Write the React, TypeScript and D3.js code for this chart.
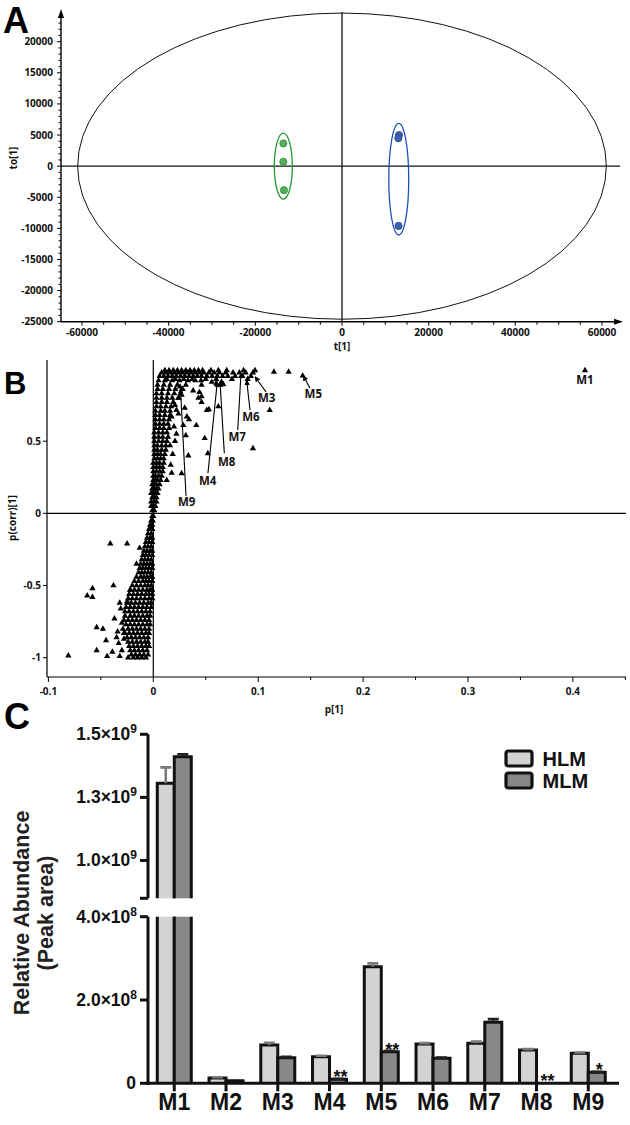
import React from "react";
import * as d3 from "d3";

// ---------------- Panel A data (OPLS-DA score plot) ----------------
const aXTicks = [-60000, -40000, -20000, 0, 20000, 40000, 60000];
const aYTicks = [20000, 15000, 10000, 5000, 0, -5000, -10000, -15000, -20000, -25000];
const greenScores: [number, number][] = [[-13540, 3650], [-13540, 690], [-13400, -3860]];
const blueScores: [number, number][] = [[13150, 5000], [13000, 4500], [13050, -9600]];
const greenEllipse = { cx: -13540, cy: 0, rx: 2080, ry: 5300 };
const blueEllipse = { cx: 13100, cy: -2100, rx: 2300, ry: 8970 };
const hotelling = { rx: 61000, ry: 24600 };

// ---------------- Panel B data (S-plot) ----------------
// rows: [p(corr), list of p values]
const negBandRows: [number, number[]][] = [
  [-0.02, [-0.001, 0.0]],
  [-0.05, [-0.002, -0.0005]],
  [-0.08, [-0.003, -0.001]],
  [-0.11, [-0.004, -0.001, -0.0025]],
  [-0.14, [-0.005, -0.002]],
  [-0.17, [-0.006, -0.003, -0.001]],
  [-0.2, [-0.007, -0.004, -0.001]],
  [-0.23, [-0.008, -0.005, -0.002]],
  [-0.26, [-0.009, -0.006, -0.003, -0.001]],
  [-0.29, [-0.01, -0.007, -0.004, -0.001]],
  [-0.32, [-0.011, -0.008, -0.005, -0.002]],
  [-0.35, [-0.012, -0.009, -0.006, -0.003, -0.001]],
  [-0.38, [-0.013, -0.01, -0.007, -0.004, -0.001]],
  [-0.41, [-0.014, -0.011, -0.008, -0.005, -0.002]],
  [-0.44, [-0.016, -0.012, -0.009, -0.006, -0.003, -0.001]],
  [-0.47, [-0.018, -0.014, -0.01, -0.007, -0.004, -0.001]],
  [-0.5, [-0.02, -0.016, -0.012, -0.008, -0.005, -0.002]],
  [-0.53, [-0.022, -0.018, -0.014, -0.01, -0.006, -0.003, -0.001]],
  [-0.56, [-0.023, -0.019, -0.015, -0.011, -0.007, -0.004, -0.001]],
  [-0.59, [-0.024, -0.02, -0.016, -0.012, -0.008, -0.004, -0.001]],
  [-0.62, [-0.025, -0.021, -0.017, -0.013, -0.009, -0.005, -0.002]],
  [-0.65, [-0.026, -0.022, -0.018, -0.014, -0.01, -0.006, -0.002]],
  [-0.68, [-0.027, -0.023, -0.019, -0.015, -0.011, -0.007, -0.003]],
  [-0.71, [-0.027, -0.022, -0.018, -0.014, -0.01, -0.006, -0.003]],
  [-0.74, [-0.028, -0.024, -0.02, -0.016, -0.012, -0.008, -0.004]],
  [-0.77, [-0.026, -0.022, -0.018, -0.014, -0.01, -0.006, -0.003]],
  [-0.8, [-0.029, -0.024, -0.02, -0.016, -0.012, -0.008, -0.004]],
  [-0.83, [-0.027, -0.023, -0.019, -0.015, -0.011, -0.007, -0.004]],
  [-0.86, [-0.025, -0.021, -0.017, -0.013, -0.009, -0.005]],
  [-0.89, [-0.024, -0.02, -0.016, -0.012, -0.008, -0.005]],
  [-0.92, [-0.023, -0.019, -0.015, -0.011, -0.007, -0.004]],
  [-0.95, [-0.022, -0.018, -0.014, -0.01, -0.006]],
  [-0.98, [-0.021, -0.017, -0.013, -0.009, -0.005]],
  [-1.0, [-0.024, -0.019, -0.015, -0.011, -0.007]],
];
const negOutliers: [number, number][] = [
  [-0.081, -0.986], [-0.041, -0.21], [-0.025, -0.21], [-0.063, -0.57], [-0.058, -0.52],
  [-0.058, -0.58], [-0.038, -0.5], [-0.054, -0.79], [-0.048, -0.8], [-0.045, -0.88],
  [-0.054, -0.95], [-0.044, -0.99], [-0.039, -0.96], [-0.032, -0.99], [-0.037, -0.73],
  [-0.03, -0.76], [-0.034, -0.82], [-0.028, -0.83], [-0.013, -0.24], [-0.016, -0.35],
  [-0.022, -0.53], [-0.025, -0.61], [-0.032, -0.62], [-0.031, -0.66], [-0.035, -0.86],
  [-0.033, -0.9], [-0.03, -0.95], [-0.028, -0.87],
];
const posBandRows: [number, number[]][] = [
  [0.02, [-0.001, 0.001]],
  [0.05, [-0.002, 0.0, 0.002]],
  [0.08, [-0.002, 0.001, 0.003]],
  [0.11, [-0.001, 0.001, 0.003]],
  [0.14, [-0.002, 0.0, 0.002, 0.004]],
  [0.17, [-0.001, 0.001, 0.003, 0.005]],
  [0.2, [-0.001, 0.001, 0.003, 0.006]],
  [0.23, [0.0, 0.002, 0.004, 0.007]],
  [0.26, [0.0, 0.002, 0.005, 0.008]],
  [0.29, [0.0, 0.003, 0.006, 0.009]],
  [0.32, [0.0, 0.003, 0.006, 0.009]],
  [0.35, [0.0, 0.003, 0.006, 0.01]],
  [0.38, [0.001, 0.004, 0.007, 0.01]],
  [0.41, [0.001, 0.004, 0.007, 0.011]],
  [0.44, [0.001, 0.004, 0.008, 0.012]],
  [0.47, [0.001, 0.004, 0.008, 0.012]],
  [0.5, [0.001, 0.005, 0.009, 0.013]],
  [0.53, [0.001, 0.005, 0.009, 0.014]],
  [0.56, [0.001, 0.005, 0.009, 0.013]],
  [0.59, [0.002, 0.006, 0.01, 0.015]],
  [0.62, [0.002, 0.006, 0.01, 0.014]],
  [0.65, [0.002, 0.006, 0.01, 0.015]],
  [0.68, [0.002, 0.006, 0.011, 0.016]],
  [0.71, [0.002, 0.007, 0.011, 0.016]],
  [0.74, [0.003, 0.007, 0.012, 0.017]],
  [0.77, [0.003, 0.008, 0.013, 0.019]],
  [0.8, [0.003, 0.008, 0.013, 0.018, 0.024]],
  [0.83, [0.003, 0.008, 0.014, 0.02, 0.026]],
  [0.86, [0.004, 0.009, 0.015, 0.021, 0.028]],
  [0.89, [0.004, 0.01, 0.016, 0.023, 0.031]],
  [0.92, [0.005, 0.011, 0.018, 0.025, 0.033, 0.04]],
  [0.93, [0.013, 0.021, 0.029, 0.037, 0.05, 0.06, 0.075, 0.09]],
  [0.95, [0.006, 0.01, 0.014, 0.018, 0.022, 0.026, 0.03, 0.034, 0.038, 0.042, 0.046, 0.051, 0.056, 0.061, 0.066, 0.071, 0.078, 0.085, 0.093]],
  [0.975, [0.008, 0.012, 0.016, 0.02, 0.024, 0.028, 0.032, 0.036, 0.04, 0.044, 0.048, 0.053, 0.058, 0.063, 0.069, 0.076, 0.082, 0.088, 0.095]],
  [0.99, [0.011, 0.015, 0.019, 0.023, 0.027, 0.031, 0.035, 0.039, 0.043, 0.047, 0.055, 0.062, 0.07, 0.086, 0.097]],
];
const posScatter: [number, number][] = [
  [0.0455, 0.92], [0.046, 0.89], [0.038, 0.85], [0.044, 0.84], [0.046, 0.81], [0.046, 0.77],
  [0.03, 0.73], [0.022, 0.715], [0.051, 0.715], [0.053, 0.72], [0.062, 0.74], [0.0175, 0.67],
  [0.032, 0.67], [0.034, 0.65], [0.041, 0.61], [0.0286, 0.61], [0.0197, 0.6], [0.022, 0.55],
  [0.031, 0.54], [0.049, 0.52], [0.0207, 0.5], [0.016, 0.47], [0.0334, 0.4], [0.0185, 0.41],
  [0.052, 0.415], [0.0166, 0.335], [0.0175, 0.28], [0.027, 0.277], [0.0128, 0.23], [0.095, 0.45],
  [0.111, 0.715], [0.0557, 0.91], [0.065, 0.91], [0.06, 0.9], [0.0667, 0.893], [0.043, 0.8],
  [0.0255, 0.877], [0.027, 0.82], [0.024, 0.8], [0.0207, 0.75], [0.024, 0.69],
  [0.115, 0.98], [0.129, 0.98], [0.1424, 0.953], [0.4115, 0.99],
];
const sAnnotations = [
  { label: "M9", p: 0.0318, pc: 0.053, from: [0.0312, 0.12], to: [0.0259, 0.867] },
  { label: "M4", p: 0.0518, pc: 0.196, from: [0.0521, 0.279], to: [0.061, 0.911] },
  { label: "M8", p: 0.07, pc: 0.328, from: [0.0677, 0.416], to: [0.0636, 0.911] },
  { label: "M7", p: 0.08, pc: 0.5, from: [0.0805, 0.577], to: [0.0836, 0.97] },
  { label: "M6", p: 0.0931, pc: 0.64, from: [0.0922, 0.715], to: [0.089, 0.923] },
  { label: "M3", p: 0.108, pc: 0.769, from: [0.1074, 0.842], to: [0.097, 0.946] },
  { label: "M5", p: 0.1525, pc: 0.8, from: [0.1494, 0.866], to: [0.143, 0.953] },
  { label: "M1", p: 0.4115, pc: 0.893, from: null, to: null },
];
const bYTicks = [0.5, 0, -0.5, -1];

// ---------------- Panel C data (bar chart) ----------------
const metabolites = ["M1", "M2", "M3", "M4", "M5", "M6", "M7", "M8", "M9"];
const hlmMean = [1.306e9, 1.3e7, 9.2e7, 6.4e7, 2.8e8, 9.44e7, 9.6e7, 8.0e7, 7.2e7];
const hlmSem = [6.3e7, 1.5e6, 5.5e6, 2e6, 8e6, 2e6, 4e6, 2e6, 2e6];
const mlmMean = [1.411e9, 6e6, 6.15e7, 1.0e7, 7.6e7, 6.0e7, 1.465e8, 0, 2.64e7];
const mlmSem = [1e7, 0, 2e6, 1e6, 2e6, 2e6, 7.5e6, 0, 1e6];
const significance = ["", "", "", "**", "**", "", "", "**", "*"];
const cUpperTicks = [
  { v: 1.5e9, m: "1.5", e: "9" },
  { v: 1.25e9, m: "1.3", e: "9" },
  { v: 1.0e9, m: "1.0", e: "9" },
];
const cLowerTicks = [
  { v: 4e8, m: "4.0", e: "8" },
  { v: 2e8, m: "2.0", e: "8" },
  { v: 0, m: "0", e: "" },
];
const seriesNames = ["HLM", "MLM"];
const seriesFill = ["#d3d3d3", "#888888"];

const tickFont = { fontFamily: "'Open Sans', 'DejaVu Sans', sans-serif", fontWeight: 700 as const };
const arialBold = { fontFamily: "'Liberation Sans', Arial, sans-serif", fontWeight: 700 as const };

export default function App() {
  // ======== Panel A ========
  const xA = d3.scaleLinear().domain([-60000, 60000]).range([82, 602]);
  const yA = d3.scaleLinear().domain([-25000, 20000]).range([321.7, 41.7]);
  const aLeft = 61, aBottom = yA(-25000), aTop = 9, aRight = 623;
  const aMinorX = d3.range(-60000, 60001, 5000);
  const aMinorY = d3.range(-25000, 24001, 1000);

  // ======== Panel B ========
  const xB = d3.scaleLinear().domain([-0.1, 0.4]).range([48.4, 572.9]);
  const yB = d3.scaleLinear().domain([-1, 1]).range([657.7, 369]);
  const bLeft = 47, bBottom = 677, bTop = 360, bRight = 626;
  const bXTickIdx = d3.range(-2, 10);
  const sPoints: [number, number][] = [];
  negBandRows.forEach(([pc, ps]) => ps.forEach((p) => sPoints.push([p, pc])));
  posBandRows.forEach(([pc, ps]) => ps.forEach((p) => sPoints.push([p, pc])));
  negOutliers.forEach((d) => sPoints.push(d));
  posScatter.forEach((d) => sPoints.push(d));
  const tri = d3.symbol().type(d3.symbolTriangle).size(17)()!;

  // ======== Panel C ========
  const yUp = d3.scaleLinear().domain([0.85e9, 1.5e9]).range([898.3, 734.3]);
  const yLo = d3.scaleLinear().domain([0, 4e8]).range([1083.3, 916.7]);
  const yC = (v: number) => (v > 4e8 ? yUp(v) : yLo(v));
  const xC = d3.scaleBand().domain(metabolites).range([148.4, 614.15]);
  const cAxisX = 148;
  const base = yLo(0);
  const barW = 17;

  const bars: React.ReactNode[] = [];
  const errs: React.ReactNode[] = [];
  const stars: React.ReactNode[] = [];
  metabolites.forEach((m, i) => {
    const c = xC(m)! + xC.bandwidth() / 2;
    [hlmMean[i], mlmMean[i]].forEach((v, s) => {
      const x0 = s === 0 ? c - barW : c;
      const x1 = x0 + barW;
      const sem = s === 0 ? hlmSem[i] : mlmSem[i];
      if (v <= 0) return;
      if (v > 4e8) {
        const top = yUp(v);
        bars.push(
          <g key={`b${i}${s}`}>
            <rect x={x0} y={yLo(4e8)} width={barW} height={base - yLo(4e8)} fill={seriesFill[s]} />
            <rect x={x0} y={top} width={barW} height={yUp(0.85e9) - top} fill={seriesFill[s]} />
            <path d={`M${x0},${base}V${yLo(4e8)}M${x1},${base}V${yLo(4e8)}`} stroke="#111" strokeWidth={3} fill="none" />
            <path d={`M${x0},${yUp(0.85e9)}V${top}H${x1}V${yUp(0.85e9)}`} stroke="#111" strokeWidth={3} fill="none" />
          </g>
        );
      } else {
        const top = yLo(v);
        bars.push(
          <g key={`b${i}${s}`}>
            <rect x={x0} y={top} width={barW} height={base - top} fill={seriesFill[s]} />
            <path d={`M${x0},${base}V${top}H${x1}V${base}`} stroke="#111" strokeWidth={3} fill="none" />
          </g>
        );
      }
      if (sem > 0) {
        const ytop = yC(v);
        const yerr = yC(v + sem);
        const col = s === 0 ? "#7a7a7a" : "#222";
        const cx = (x0 + x1) / 2;
        errs.push(
          <path key={`e${i}${s}`} d={`M${cx},${ytop}V${yerr}M${cx - 5.5},${yerr}H${cx + 5.5}`} stroke={col} strokeWidth={2.6} fill="none" />
        );
      }
    });
    if (significance[i]) {
      stars.push(
        <text key={`s${i}`} x={c + 11} y={yC(mlmMean[i]) + 4} textAnchor="middle" fontSize={18} {...arialBold} fill="#111">
          {significance[i]}
        </text>
      );
    }
  });

  return (
    <svg width={630} height={1125} style={{ position: "absolute", left: 0, top: 0, background: "#fff" }}>
      <defs>
        <marker id="arrowB" viewBox="0 0 10 10" refX="9" refY="5" markerWidth="5" markerHeight="5" orient="auto">
          <path d="M0,0L10,5L0,10z" fill="#000" />
        </marker>
      </defs>

      {/* ================= Panel A ================= */}
      <text x={3} y={33} fontSize={36} {...arialBold} fill="#000">A</text>
      <ellipse cx={xA(0)} cy={yA(0)} rx={xA(hotelling.rx) - xA(0)} ry={yA(0) - yA(hotelling.ry)} fill="none" stroke="#111" strokeWidth={1} />
      <line x1={xA(0)} x2={xA(0)} y1={aTop + 3} y2={aBottom} stroke="#111" strokeWidth={1.3} />
      <line x1={aLeft} x2={aRight - 3} y1={yA(0)} y2={yA(0)} stroke="#111" strokeWidth={1.3} />
      <ellipse cx={xA(greenEllipse.cx)} cy={yA(greenEllipse.cy)} rx={xA(greenEllipse.rx) - xA(0)} ry={yA(0) - yA(greenEllipse.ry)} fill="none" stroke="#1f9a3a" strokeWidth={1.3} />
      <ellipse cx={xA(blueEllipse.cx)} cy={yA(blueEllipse.cy)} rx={xA(blueEllipse.rx) - xA(0)} ry={yA(0) - yA(blueEllipse.ry)} fill="none" stroke="#1f4fb8" strokeWidth={1.3} />
      {greenScores.map(([x, y], i) => (
        <circle key={`g${i}`} cx={xA(x)} cy={yA(y)} r={3.6} fill="#55b055" stroke="#2f8a3f" strokeWidth={0.8} />
      ))}
      {blueScores.map(([x, y], i) => (
        <circle key={`bl${i}`} cx={xA(x)} cy={yA(y)} r={3.6} fill="#3f5fb0" stroke="#2a4595" strokeWidth={0.8} />
      ))}
      <line x1={aLeft} x2={aLeft} y1={aBottom} y2={aTop + 6} stroke="#000" strokeWidth={1.4} />
      <path d={`M${aLeft - 3},${aTop + 9}L${aLeft},${aTop}L${aLeft + 3},${aTop + 9}Z`} fill="#000" />
      <line x1={aLeft} x2={aRight - 6} y1={aBottom} y2={aBottom} stroke="#000" strokeWidth={1.4} />
      <path d={`M${aRight - 9},${aBottom - 3}L${aRight},${aBottom}L${aRight - 9},${aBottom + 3}Z`} fill="#000" />
      {aMinorY.map((v) => (
        <line key={`amy${v}`} x1={aLeft - (v % 5000 === 0 ? 4 : 2.5)} x2={aLeft} y1={yA(v)} y2={yA(v)} stroke="#000" strokeWidth={1} />
      ))}
      {aMinorX.map((v) => (
        <line key={`amx${v}`} x1={xA(v)} x2={xA(v)} y1={aBottom} y2={aBottom + (v % 20000 === 0 ? 4 : 3)} stroke="#000" strokeWidth={1} />
      ))}
      {aYTicks.map((v) => (
        <text key={`ay${v}`} x={53} y={yA(v) + 3.5} textAnchor="end" fontSize={10} {...tickFont} fill="#111">{v}</text>
      ))}
      {aXTicks.map((v) => (
        <text key={`ax${v}`} x={xA(v)} y={336} textAnchor="middle" fontSize={10} {...tickFont} fill="#111">{v}</text>
      ))}
      <text x={342} y={350} textAnchor="middle" fontSize={10} {...tickFont} fill="#111">t[1]</text>
      <text transform={`translate(17,158) rotate(-90)`} textAnchor="middle" fontSize={10} {...tickFont} fill="#111">to[1]</text>

      {/* ================= Panel B ================= */}
      <text x={4} y={394} fontSize={31} {...arialBold} fill="#000">B</text>
      <line x1={xB(0)} x2={xB(0)} y1={bTop} y2={bBottom} stroke="#000" strokeWidth={1.2} />
      <line x1={bLeft} x2={bRight} y1={yB(0)} y2={yB(0)} stroke="#000" strokeWidth={1.2} />
      <line x1={bLeft} x2={bLeft} y1={bTop} y2={bBottom} stroke="#000" strokeWidth={1.2} />
      <line x1={bLeft} x2={bRight} y1={bBottom} y2={bBottom} stroke="#000" strokeWidth={1.2} />
      {bXTickIdx.map((k) => (
        <line key={`bxt${k}`} x1={xB(k * 0.05)} x2={xB(k * 0.05)} y1={bBottom} y2={bBottom + (k % 2 === 0 ? 5 : 3)} stroke="#000" strokeWidth={1} />
      ))}
      {bXTickIdx.filter((k) => k % 2 === 0 && k <= 8).map((k) => (
        <text key={`bxl${k}`} x={xB(k * 0.05)} y={695} textAnchor="middle" fontSize={10} {...tickFont} fill="#111">
          {String(+(k * 0.05).toFixed(2))}
        </text>
      ))}
      {bYTicks.map((v) => (
        <g key={`by${v}`}>
          <line x1={bLeft - 4} x2={bLeft} y1={yB(v)} y2={yB(v)} stroke="#000" strokeWidth={1} />
          <text x={41} y={yB(v) + 3.5} textAnchor="end" fontSize={10} {...tickFont} fill="#111">{String(v)}</text>
        </g>
      ))}
      <text x={334} y={713} textAnchor="middle" fontSize={10} {...tickFont} fill="#111">p[1]</text>
      <text transform={`translate(16,518) rotate(-90)`} textAnchor="middle" fontSize={10} {...tickFont} fill="#111">p(corr)[1]</text>
      {sPoints.map(([p, pc], i) => (
        <path key={`sp${i}`} d={tri} transform={`translate(${xB(p)},${yB(pc)})`} fill="#000" />
      ))}
      {sAnnotations.map((a) => (
        <g key={a.label}>
          {a.from && a.to && (
            <line x1={xB(a.from[0])} y1={yB(a.from[1])} x2={xB(a.to[0])} y2={yB(a.to[1])} stroke="#000" strokeWidth={1.1} markerEnd="url(#arrowB)" />
          )}
          <text x={xB(a.p)} y={yB(a.pc)} textAnchor="middle" fontSize={11.5} {...tickFont} fill="#111">{a.label}</text>
        </g>
      ))}

      {/* ================= Panel C ================= */}
      <text x={4} y={729} fontSize={36} {...arialBold} fill="#000">C</text>
      {bars}
      {errs}
      {stars}
      <path d={`M${cAxisX},${yUp(1.5e9)}V${yUp(0.85e9)}`} stroke="#111" strokeWidth={3} fill="none" />
      <path d={`M${cAxisX},${yLo(4e8)}V${base + 1.5}`} stroke="#111" strokeWidth={3} fill="none" />
      {[...cUpperTicks.map((t) => yUp(t.v)), yUp(0.85e9)].map((y, i) => (
        <line key={`cut${i}`} x1={cAxisX - 8} x2={cAxisX} y1={y} y2={y} stroke="#111" strokeWidth={3} />
      ))}
      {cLowerTicks.map((t, i) => (
        <line key={`clt${i}`} x1={cAxisX - 8} x2={cAxisX} y1={yLo(t.v)} y2={yLo(t.v)} stroke="#111" strokeWidth={3} />
      ))}
      {[...cUpperTicks.map((t) => ({ ...t, y: yUp(t.v) })), ...cLowerTicks.map((t) => ({ ...t, y: yLo(t.v) }))].map((t, i) => (
        <text key={`ctl${i}`} x={t.e ? 137 : 136} y={t.y + 6} textAnchor="end" fontSize={17.5} {...arialBold} fill="#111">
          {t.e ? (
            <>
              <tspan>{t.m}×10</tspan>
              <tspan dy={-7} fontSize={12}>{t.e}</tspan>
            </>
          ) : (
            t.m
          )}
        </text>
      ))}
      <line x1={cAxisX - 1.5} x2={619} y1={base} y2={base} stroke="#111" strokeWidth={3} />
      {metabolites.map((m) => {
        const c = xC(m)! + xC.bandwidth() / 2;
        return (
          <g key={`cx${m}`}>
            <line x1={c} x2={c} y1={base} y2={base + 8} stroke="#111" strokeWidth={3} />
            <text x={c} y={1110} textAnchor="middle" fontSize={23} {...arialBold} fill="#111">{m}</text>
          </g>
        );
      })}
      <text transform={`translate(29,913) rotate(-90)`} textAnchor="middle" fontSize={21.5} {...arialBold} fill="#222">Relative Abundance</text>
      <text transform={`translate(53,913) rotate(-90)`} textAnchor="middle" fontSize={21.5} {...arialBold} fill="#222">(Peak area)</text>
      {seriesNames.map((n, i) => (
        <g key={`lg${n}`}>
          <rect x={506} y={751 + i * 22} width={26} height={15} rx={2.5} fill={seriesFill[i]} stroke="#111" strokeWidth={3.2} />
          <text x={542.5} y={766 + i * 22} fontSize={20} {...arialBold} fill="#111">{n}</text>
        </g>
      ))}
    </svg>
  );
}
